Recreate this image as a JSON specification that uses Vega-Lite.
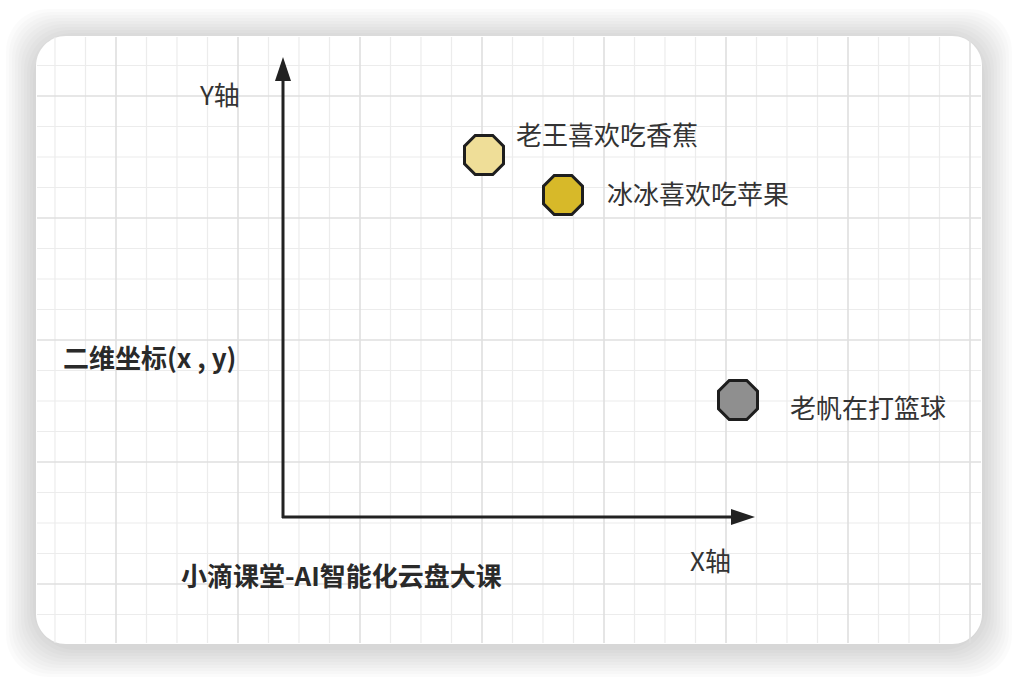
{
  "$schema": "https://vega.github.io/schema/vega-lite/v6.json",
  "width": 1018,
  "height": 680,
  "autosize": {"type": "fit", "contains": "padding"},
  "padding": 0,
  "background": "#ffffff",
  "config": {"view": {"stroke": null}},
  "datasets": {
    "shadow": [
      {"x": 33, "x2": 985, "y": 36, "y2": 650},
      {"x": 30, "x2": 988, "y": 33, "y2": 653},
      {"x": 27, "x2": 991, "y": 30, "y2": 656},
      {"x": 24, "x2": 994, "y": 27, "y2": 659},
      {"x": 21, "x2": 997, "y": 24, "y2": 662},
      {"x": 18, "x2": 1000, "y": 21, "y2": 665},
      {"x": 15, "x2": 1003, "y": 18, "y2": 668},
      {"x": 12, "x2": 1006, "y": 15, "y2": 671},
      {"x": 9, "x2": 1009, "y": 12, "y2": 674},
      {"x": 6, "x2": 1012, "y": 9, "y2": 677}
    ],
    "card": [{"x": 36, "x2": 982, "y": 36, "y2": 644}],
    "minorV": [
      {"x": 55}, {"x": 85.5}, {"x": 146.5}, {"x": 177}, {"x": 207.5}, {"x": 268.5},
      {"x": 299}, {"x": 329.5}, {"x": 390.5}, {"x": 421}, {"x": 451.5}, {"x": 512.5},
      {"x": 543}, {"x": 573.5}, {"x": 634.5}, {"x": 665}, {"x": 695.5}, {"x": 756.5},
      {"x": 787}, {"x": 817.5}, {"x": 878.5}, {"x": 909}, {"x": 939.5}
    ],
    "majorV": [
      {"x": 116}, {"x": 238}, {"x": 360}, {"x": 482}, {"x": 604}, {"x": 726}, {"x": 848}, {"x": 970}
    ],
    "minorH": [
      {"y": 65.5}, {"y": 126.5}, {"y": 157}, {"y": 187.5}, {"y": 248.5}, {"y": 279},
      {"y": 309.5}, {"y": 370.5}, {"y": 401}, {"y": 431.5}, {"y": 492.5}, {"y": 523},
      {"y": 553.5}, {"y": 614.5}
    ],
    "majorH": [
      {"y": 96}, {"y": 218}, {"y": 340}, {"y": 462}, {"y": 584}
    ],
    "axes": [
      {"x": 283, "y": 518, "x2": 283, "y2": 78},
      {"x": 282, "y": 517, "x2": 734, "y2": 517}
    ],
    "heads": [
      {"dir": "up", "x": 283, "y": 69},
      {"dir": "right", "x": 743, "y": 517}
    ],
    "points": [
      {"name": "老王喜欢吃香蕉", "x": 484, "y": 155},
      {"name": "冰冰喜欢吃苹果", "x": 563, "y": 195},
      {"name": "老帆在打篮球", "x": 738, "y": 400}
    ],
    "labels": [
      {"text": "老王喜欢吃香蕉", "x": 516, "y": 137},
      {"text": "冰冰喜欢吃苹果", "x": 607, "y": 196},
      {"text": "老帆在打篮球", "x": 790, "y": 410},
      {"text": "Y轴", "x": 200, "y": 97},
      {"text": "X轴", "x": 690, "y": 563}
    ],
    "boldLabels": [
      {"text": "二维坐标(x , y)", "x": 63, "y": 360},
      {"text": "小滴课堂-AI智能化云盘大课", "x": 181, "y": 578}
    ]
  },
  "layer": [
    {
      "data": {"name": "shadow"},
      "mark": {"type": "rect", "fill": "#000000", "opacity": 0.017, "cornerRadius": 42},
      "encoding": {
        "x": {"field": "x", "type": "quantitative", "scale": {"domain": [0, 1018], "nice": false, "zero": false}, "axis": null},
        "y": {"field": "y", "type": "quantitative", "scale": {"domain": [0, 680], "nice": false, "zero": false, "reverse": true}, "axis": null},
        "x2": {"field": "x2"}, "y2": {"field": "y2"}
      }
    },
    {
      "data": {"name": "card"},
      "mark": {"type": "rect", "fill": "#ffffff", "cornerRadius": 30},
      "encoding": {
        "x": {"field": "x", "type": "quantitative"},
        "y": {"field": "y", "type": "quantitative"},
        "x2": {"field": "x2"}, "y2": {"field": "y2"}
      }
    },
    {
      "data": {"name": "minorV"},
      "mark": {"type": "rule", "stroke": "#ececec", "strokeWidth": 1.2},
      "encoding": {"x": {"field": "x", "type": "quantitative"}, "y": {"datum": 37}, "y2": {"datum": 643}}
    },
    {
      "data": {"name": "minorH"},
      "mark": {"type": "rule", "stroke": "#ececec", "strokeWidth": 1.2},
      "encoding": {"y": {"field": "y", "type": "quantitative"}, "x": {"datum": 37}, "x2": {"datum": 981}}
    },
    {
      "data": {"name": "majorV"},
      "mark": {"type": "rule", "stroke": "#dfdfdf", "strokeWidth": 1.6},
      "encoding": {"x": {"field": "x", "type": "quantitative"}, "y": {"datum": 37}, "y2": {"datum": 643}}
    },
    {
      "data": {"name": "majorH"},
      "mark": {"type": "rule", "stroke": "#dfdfdf", "strokeWidth": 1.6},
      "encoding": {"y": {"field": "y", "type": "quantitative"}, "x": {"datum": 37}, "x2": {"datum": 981}}
    },
    {
      "data": {"name": "axes"},
      "mark": {"type": "rule", "stroke": "#222222", "strokeWidth": 3},
      "encoding": {
        "x": {"field": "x", "type": "quantitative"},
        "y": {"field": "y", "type": "quantitative"},
        "x2": {"field": "x2"}, "y2": {"field": "y2"}
      }
    },
    {
      "data": {"name": "heads"},
      "mark": {"type": "point", "filled": true, "fill": "#222222", "strokeWidth": 0, "opacity": 1},
      "encoding": {
        "x": {"field": "x", "type": "quantitative"},
        "y": {"field": "y", "type": "quantitative"},
        "shape": {"field": "dir", "type": "nominal", "scale": {"domain": ["up", "right"], "range": ["M-0.667,1L0,-1L0.667,1Z", "M-1,-0.667L1,0L-1,0.667Z"]}, "legend": null},
        "size": {"value": 576}
      }
    },
    {
      "data": {"name": "points"},
      "mark": {"type": "point", "filled": true, "stroke": "#1e1e1e", "strokeWidth": 3, "opacity": 1, "shape": "M-0.45,-1L0.45,-1L1,-0.45L1,0.45L0.45,1L-0.45,1L-1,0.45L-1,-0.45Z", "size": 1521},
      "encoding": {
        "x": {"field": "x", "type": "quantitative"},
        "y": {"field": "y", "type": "quantitative"},
        "fill": {"field": "name", "type": "nominal", "scale": {"domain": ["老王喜欢吃香蕉", "冰冰喜欢吃苹果", "老帆在打篮球"], "range": ["#efde98", "#d7b929", "#8f8f8f"]}, "legend": null}
      }
    },
    {
      "data": {"name": "labels"},
      "mark": {"type": "text", "align": "left", "baseline": "middle", "font": "Noto Sans CJK SC", "fontSize": 26, "fill": "#333333"},
      "encoding": {
        "x": {"field": "x", "type": "quantitative"},
        "y": {"field": "y", "type": "quantitative"},
        "text": {"field": "text"}
      }
    },
    {
      "data": {"name": "boldLabels"},
      "mark": {"type": "text", "align": "left", "baseline": "middle", "font": "Noto Sans CJK SC", "fontSize": 26, "fontWeight": "bold", "fill": "#2a2a2a"},
      "encoding": {
        "x": {"field": "x", "type": "quantitative"},
        "y": {"field": "y", "type": "quantitative"},
        "text": {"field": "text"}
      }
    }
  ]
}
